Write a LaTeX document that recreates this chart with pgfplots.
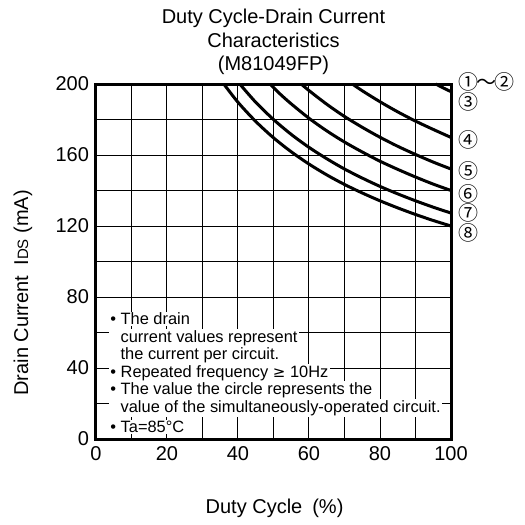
\documentclass[border=0pt]{standalone}
\usepackage{pgfplots}
\pgfplotsset{compat=1.18}
\usepackage{fontspec}
\setmainfont{Liberation Sans}
\newfontfamily\dv{DejaVu Sans}
\newfontfamily\cjk{Noto Sans CJK JP}
\begin{document}
\begin{tikzpicture}
\useasboundingbox (-48pt,-43pt) rectangle (214.5pt,219.5pt);
\begin{axis}[
  at={(0,0)}, anchor=south west,
  width=177.5pt, height=177.5pt, scale only axis,
  xmin=0, xmax=100, ymin=0, ymax=200,
  xtick={0,20,...,100}, minor xtick={10,30,...,90},
  ytick={0,40,...,200}, minor ytick={20,60,...,180},
  grid=both,
  major grid style={black, line width=0.5pt},
  minor grid style={black, line width=0.5pt},
  axis line style={black, line width=1.5pt},
  tick style={black, line width=0.5pt},
  major tick length=3.5pt, minor tick length=3.5pt,
  tick align=inside,
  xtick pos=bottom, ytick pos=left,
  ticklabel style={font=\fontsize{10}{12}\selectfont},
  /pgf/number format/assume math mode=true,
  clip=false,
]
% curves 1-2
\addplot[black, line width=1.5pt] coordinates {(0,200) (100,200)};
% curve 3
\addplot[black, line width=1.5pt, smooth] coordinates {(95.7,200) (98,197.6) (100,195.7)};
% curve 4
\addplot[black, line width=1.5pt, smooth] coordinates {(72.2,200) (75,196.2) (80,190.0) (85,184.3) (90,179.1) (95,174.4) (100,169.9)};
% curve 5
\addplot[black, line width=1.5pt, smooth] coordinates {(57.8,200) (60,196.3) (65,188.6) (70,181.7) (75,175.6) (80,170.0) (85,164.9) (90,160.3) (95,156.0) (100,152.1)};
% curve 6
\addplot[black, line width=1.5pt, smooth] coordinates {(49,200) (52,194.1) (55,188.8) (60,180.7) (65,173.6) (70,167.3) (75,161.7) (80,156.5) (85,151.9) (90,147.6) (95,143.6) (100,140)};
% curve 7
\addplot[black, line width=1.5pt, smooth] coordinates {(40.5,200) (45,189.7) (50,180) (55,171.6) (60,164.3) (65,157.9) (70,152.1) (75,147.0) (80,142.3) (85,138.1) (90,134.2) (95,130.6) (100,127.3)};
% curve 8
\addplot[black, line width=1.5pt, smooth] coordinates {(36,200) (40,189.7) (45,178.9) (50,169.7) (55,161.8) (60,154.9) (65,148.8) (70,143.4) (75,138.6) (80,134.2) (85,130.2) (90,126.5) (95,123.1) (100,120)};

% title
\node[align=center, font=\fontsize{10}{11.75}\selectfont] at (axis cs:50,223.7) {Duty Cycle-Drain Current\\Characteristics\\(M81049FP)};
% axis labels
\node[font=\fontsize{10}{12}\selectfont] at (axis cs:50.3,-38.9) {Duty Cycle\enspace(\%)};
\node[rotate=90, font=\fontsize{10}{12}\selectfont] at (axis cs:-20.6,82.3) {Drain Current\enspace I{\fontsize{7.5}{9}\selectfont DS} (mA)};
% circled numbers
\begin{scope}[every node/.style={anchor=west, inner sep=0pt, font=\cjk\fontsize{10}{12}\selectfont}]
\node at ([xshift=3.5pt]axis cs:100,201.3) {①\kern-0.1em〜\kern-0.1em②};
\node at ([xshift=3.5pt]axis cs:100,190) {③};
\node at ([xshift=3.5pt]axis cs:100,168.5) {④};
\node at ([xshift=3.5pt]axis cs:100,151) {⑤};
\node at ([xshift=3.5pt]axis cs:100,138.2) {⑥};
\node at ([xshift=3.5pt]axis cs:100,127.3) {⑦};
\node at ([xshift=3.5pt]axis cs:100,116.2) {⑧};
\end{scope}
% notes
\begin{scope}[every node/.style={anchor=west, fill=white, inner sep=0.6pt, font=\fontsize{8.2}{9}\selectfont}]
\node at (axis cs:3.6,67.6) {• The drain};
\node at (axis cs:3.6,56.9) {\phantom{• }current values represent};
\node at (axis cs:3.6,47.3) {\phantom{• }the current per circuit.};
\node at (axis cs:3.6,37.2) {• Repeated frequency {\dv\fontsize{7.5}{9}\selectfont ≥} 10Hz};
\node at (axis cs:3.6,27.6) {• The value the circle represents the};
\node at (axis cs:3.6,17.5) {\phantom{• }value of the simultaneously-operated circuit.};
\node at (axis cs:3.6,6.8) {• Ta=85°C};
\end{scope}
\end{axis}
\end{tikzpicture}
\end{document}
